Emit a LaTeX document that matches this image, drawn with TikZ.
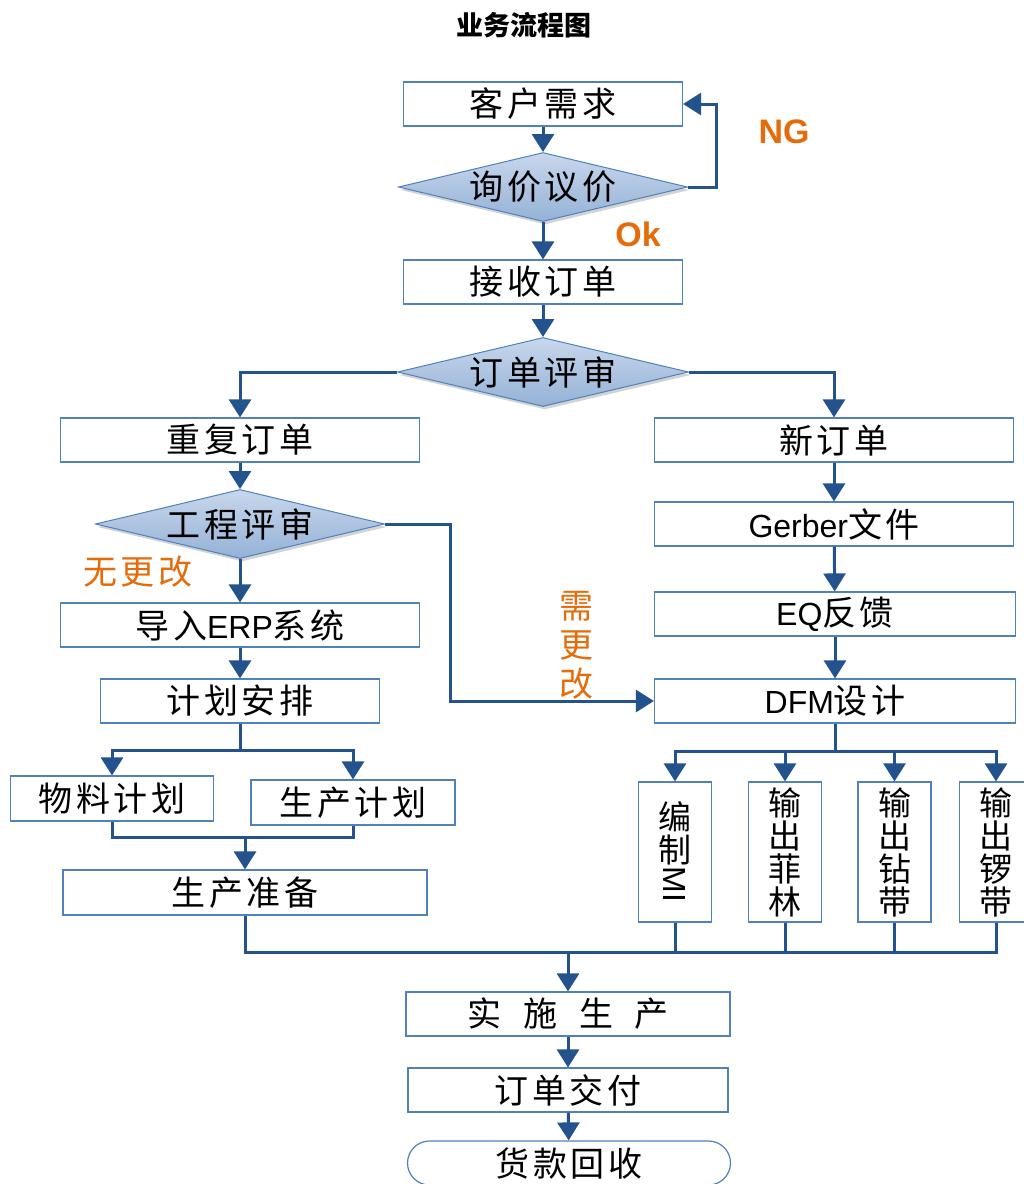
\documentclass[tikz,border=0pt]{standalone}
\usepackage{fontspec}
\setmainfont{Liberation Sans}
\newfontfamily\cjk{Noto Sans CJK SC}[LetterSpace=10]
\newfontfamily\cjkt{Noto Sans CJK SC}
\usepackage{graphicx}
\usepackage{xcolor}
\usepackage{tikz}
\usetikzlibrary{positioning,calc,shapes.geometric,shapes.misc,arrows.meta,shadows}

\newcommand\flowfont{\fontsize{34}{38}\selectfont}

\begin{document}
\begin{tikzpicture}[x=1pt,y=-1pt]
					\definecolor{lineblue}{RGB}{36,82,140}
					\definecolor{boxblue}{RGB}{79,129,189}
					\definecolor{diatop}{RGB}{200,215,236}
					\definecolor{diabot}{RGB}{148,178,214}
					\definecolor{tagorange}{RGB}{228,108,10}
					\tikzset{
						box/.style={
							draw=boxblue, line width=1.2pt, fill=white,
							inner sep=0pt, minimum height=44pt, font=\flowfont\cjk
						},
						vbox/.style={
							box, minimum width=73pt, minimum height=140pt,
							align=center, font=\fontsize{33}{33}\selectfont\cjk
						},
						dia/.style={
							diamond, aspect=4, draw=boxblue, line width=1pt,
							top color=diatop, bottom color=diabot,
							drop shadow={shadow xshift=2pt, shadow yshift=-3pt, opacity=0.35},
							minimum width=289pt, minimum height=69pt, inner sep=0pt,
							font=\flowfont\cjk
						},
						flow/.style={
							-{Triangle[length=18pt,width=22pt]},
							draw=lineblue, line width=3pt
						},
						link/.style={draw=lineblue, line width=3pt},
						tag/.style={text=tagorange, font=\fontsize{34}{36}\selectfont\bfseries},
						tagzh/.style={text=tagorange, font=\flowfont\cjk}
					}
					\useasboundingbox (0,0) rectangle (1024,1184);
					
					% ======= 标题 =======
					\node[font=\fontsize{27}{30}\selectfont\cjkt\bfseries] (title) at (524,25) {业务流程图};
					
					% ======= 询价与接单 =======
					\node[box, minimum width=279pt] (kh) at (543,104) {客户需求};
					\node[dia] (xj) at (543,187) {询价议价};
					\node[box, minimum width=279pt] (jd) at (543,282) {接收订单};
					\node[dia, minimum width=291pt] (ps) at (543,372) {订单评审};
					
					\node[tag] (ng) at (784,132) {NG};
					\node[tag] (ok) at (638,234) {Ok};
					
					\draw[flow] (kh) -- (xj);
					\draw[flow] (xj.east) -- ++(28,0) |- (kh.east);
					\draw[flow] (xj) -- (jd);
					\draw[flow] (jd) -- (ps);
					
					% ======= 重复订单 =======
					\node[box, minimum width=359pt] (cf) at (240,440) {重复订单};
					\node[dia] (gc) at (240,524) {工程评审};
					\node[box, minimum width=359pt] (erp) at (240,625) {导入{\rmfamily\fontsize{32}{36}\selectfont ERP}系统};
					\node[box, minimum width=279pt] (jh) at (240,701) {计划安排};
					\node[box, minimum width=203pt, minimum height=45pt] (wl) at (112,798.5) {物料计划};
					\node[box, minimum width=204pt, minimum height=45pt] (scj) at (353,802.5) {生产计划};
					\node[box, minimum width=364pt, minimum height=45pt] (zb) at (245,892.5) {生产准备};
					
					\node[tagzh] (wgg) at (138,572) {无更改};
					\node[tagzh, align=center, font=\fontsize{34}{39}\selectfont\cjk] (xgg) at (576,645) {需\\更\\改};
					
					\draw[flow] (ps.west) -| (cf.north);
					\draw[flow] (cf) -- (gc);
					\draw[flow] (gc) -- (erp);
					\draw[flow] (erp) -- (jh);
					
					\coordinate (jhs) at (240,750);
					\draw[link] (jh.south) -- (jhs);
					\draw[flow] (jhs) -| (wl.north);
					\draw[flow] (jhs) -| (scj.north);
					
					\coordinate (mg1) at (245,837);
					\draw[link] (wl.south) |- (mg1);
					\draw[link] (scj.south) |- (mg1);
					\draw[flow] (mg1) -- (zb.north);
					
					% ======= 新订单 =======
					\node[box, minimum width=359pt] (xd) at (834,440) {新订单};
					\node[box, minimum width=359pt] (gb) at (834,524) {{\rmfamily\fontsize{32}{36}\selectfont Gerber}文件};
					\node[box, minimum width=361pt] (eq) at (835,614) {{\rmfamily\fontsize{32}{36}\selectfont EQ}反馈};
					\node[box, minimum width=361pt] (dfm) at (835,701) {{\rmfamily\fontsize{32}{36}\selectfont DFM}设计};
					
					\node[vbox] (mi) at (675,852) {编\\制\\\rotatebox[origin=c]{-90}{\rmfamily\fontsize{32}{36}\selectfont MI}};
					\node[vbox] (fl) at (785,852) {输\\出\\菲\\林};
					\node[vbox] (zd) at (894.5,852) {输\\出\\钻\\带};
					\node[vbox] (ld) at (996,852) {输\\出\\锣\\带};
					
					\draw[flow] (ps.east) -| (xd.north);
					\draw[flow] (xd) -- (gb);
					\draw[flow] (gb) -- (eq);
					\draw[flow] (eq) -- (dfm);
					\draw[flow] (gc.east) -- ++(65,0) |- (dfm.west);
					
					\coordinate (dfs) at (835,751);
					\draw[link] (dfm.south) -- (dfs);
					\draw[flow] (dfs) -| (mi.north);
					\draw[flow] (dfs) -| (fl.north);
					\draw[flow] (dfs) -| (zd.north);
					\draw[flow] (dfs) -| (ld.north);
					
					% ======= 生产与交付 =======
					\node[box, minimum width=324pt] (ss) at (568,1014) {实\hspace{22pt}施\hspace{22pt}生\hspace{22pt}产};
					\node[box, minimum width=320pt] (jf) at (568,1090) {订单交付};
					\node[box, rounded rectangle, minimum width=323pt] (hk) at (569,1163) {货款回收};
					
					\coordinate (mg2) at (568,952);
					\draw[link] (zb.south) |- (mg2);
					\draw[link] (mi.south) |- (mg2);
					\draw[link] (fl.south) |- (mg2);
					\draw[link] (zd.south) |- (mg2);
					\draw[link] (ld.south) |- (mg2);
					\draw[flow] (mg2) -- (ss.north);
					\draw[flow] (ss) -- (jf);
					\draw[flow] (jf) -- (hk);
					
				\end{tikzpicture}
\end{document}
